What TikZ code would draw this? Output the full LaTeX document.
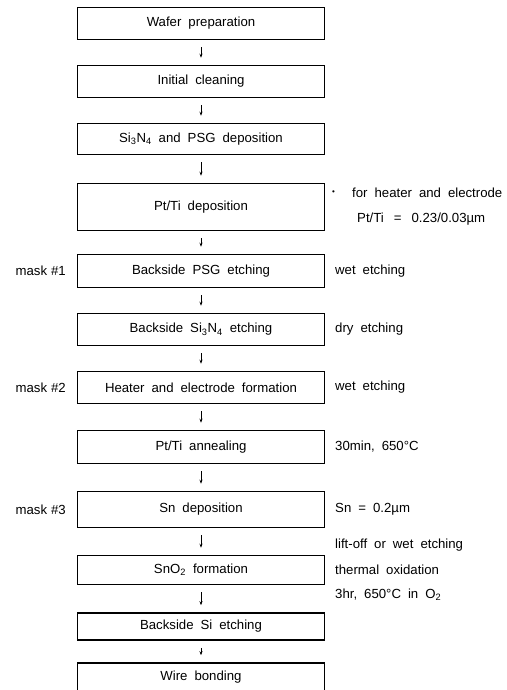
\documentclass[tikz,border=0pt]{standalone}
\usepackage{fontspec}
\setmainfont{Liberation Sans}
\usetikzlibrary{arrows.meta}
\newcommand\widespaces{\spaceskip=7pt plus 1pt minus 1pt\relax}
\newcommand\narrowspaces{\spaceskip=4pt plus 1pt minus 1pt\relax}
\begin{document}
\begin{tikzpicture}[x=1pt,y=-1pt,
  every node/.style={font=\fontsize{13.2}{15}\selectfont, execute at begin node=\widespaces, inner sep=0pt},
  stepbox/.style={draw, line width=1.5pt, minimum width=247pt, anchor=center},
  arr/.style={-{Stealth[length=4pt,width=3pt]}, line width=0.7pt, shorten <=7pt, shorten >=7pt},
  side/.style={anchor=west},
  masklbl/.style={anchor=east, execute at begin node=\narrowspaces}]
\useasboundingbox (0,0) rectangle (506,690);
\clip (0,0) rectangle (506,690);
% process boxes
\node[stepbox, minimum height=32pt] (b1) at (201,23.5) {Wafer preparation};
\node[stepbox, minimum height=32pt] (b2) at (201,81.5) {Initial cleaning};
\node[stepbox, minimum height=31pt] (b3) at (201,139) {Si\textsubscript{3}N\textsubscript{4} and PSG deposition};
\node[stepbox, minimum height=47pt] (b4) at (201,207) {Pt/Ti deposition};
\node[stepbox, minimum height=33pt] (b5) at (201,271) {Backside PSG etching};
\node[stepbox, minimum height=32pt] (b6) at (201,329.5) {Backside Si\textsubscript{3}N\textsubscript{4} etching};
\node[stepbox, minimum height=32pt] (b7) at (201,387.5) {Heater and electrode formation};
\node[stepbox, minimum height=33pt] (b8) at (201,447) {Pt/Ti annealing};
\node[stepbox, minimum height=36pt] (b9) at (201,509.5) {Sn deposition};
\node[stepbox, minimum height=29pt] (b10) at (201,570) {SnO\textsubscript{2} formation};
\node[stepbox, minimum height=27pt] (b11) at (201,626.5) {Backside Si etching};
\node[stepbox, minimum height=28pt] (b12) at (201,677) {Wire bonding};
% connectors
\draw[arr] (b1) -- (b2);
\draw[arr] (b2) -- (b3);
\draw[arr] (b3) -- (b4);
\draw[arr] (b4) -- (b5);
\draw[arr] (b5) -- (b6);
\draw[arr] (b6) -- (b7);
\draw[arr] (b7) -- (b8);
\draw[arr] (b8) -- (b9);
\draw[arr] (b9) -- (b10);
\draw[arr] (b10) -- (b11);
\draw[arr] (b11) -- (b12);
% mask labels
\node[masklbl] (m1) at (66,271) {mask \#1};
\node[masklbl] (m2) at (66,387.5) {mask \#2};
\node[masklbl] (m3) at (66,509.5) {mask \#3};
% side notes
\node[side] (n0) at (332,193) {\fontsize{8}{8}\selectfont •};
\node[side] (n1) at (352,193) {for heater and electrode};
\node[side] (n2) at (357,219) {Pt/Ti\hspace{3pt} = \hspace{3pt}0.23/0.03µm};
\node[side] (n3) at (335,271) {wet etching};
\node[side] (n4) at (335,329.5) {dry etching};
\node[side] (n5) at (335,387.5) {wet etching};
\node[side] (n6) at (335,447) {30min, 650°C};
\node[side] (n7) at (335,509.5) {Sn = 0.2µm};
\node[side] (n8) at (335,545) {lift-off or wet etching};
\node[side] (n9) at (335,570) {thermal oxidation};
\node[side] (n10) at (335,595) {3hr, 650°C in O\textsubscript{2}};
\end{tikzpicture}
\end{document}
